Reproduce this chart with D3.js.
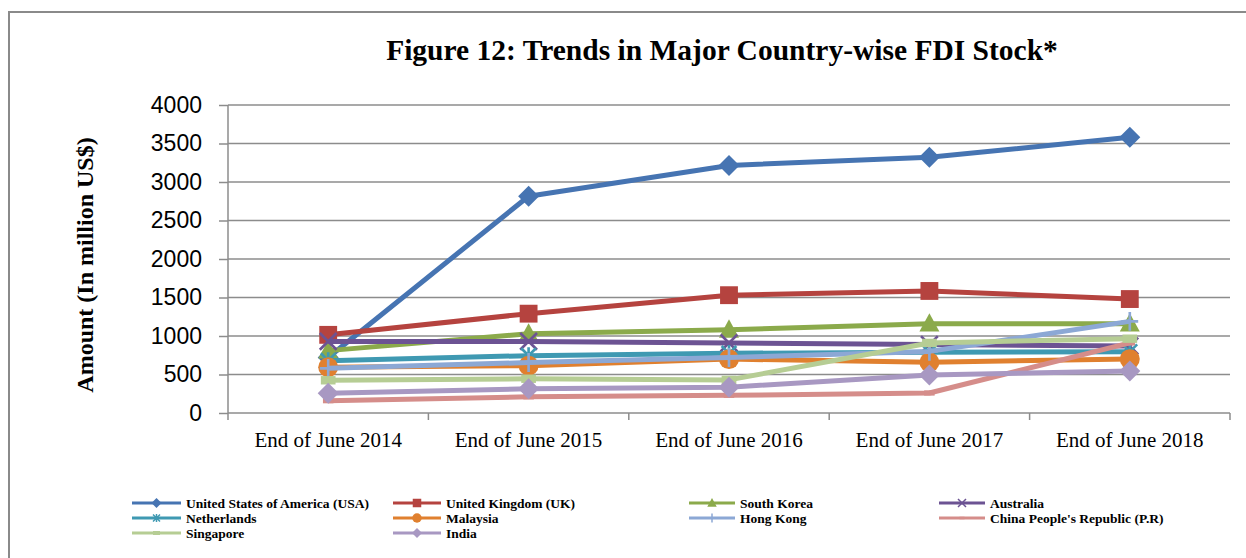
<!DOCTYPE html>
<html>
<head>
<meta charset="utf-8">
<script src="https://cdn.jsdelivr.net/npm/d3@7"></script>
<style>
  body { margin: 0; background: #fff; }
  svg { display: block; }
</style>
</head>
<body>
<div id="chart"></div>
<script>
const periods = ["End of June 2014", "End of June 2015", "End of June 2016", "End of June 2017", "End of June 2018"];
const yTicks = [0, 500, 1000, 1500, 2000, 2500, 3000, 3500, 4000];

const usa = [720, 2815, 3215, 3320, 3580];
const uk = [1015, 1290, 1530, 1585, 1480];
const southKorea = [810, 1030, 1080, 1160, 1160];
const australia = [930, 930, 910, 890, 870];
const netherlands = [680, 745, 775, 790, 795];
const malaysia = [595, 615, 700, 660, 700];
const hongKong = [580, 655, 720, 800, 1190];
const china = [160, 210, 230, 260, 910];
const singapore = [425, 445, 430, 910, 965];
const india = [255, 315, 335, 495, 545];

const series = [
  { name: "United States of America (USA)", values: usa, color: "#4674B2", marker: "diamond" },
  { name: "United Kingdom (UK)", values: uk, color: "#B5433F", marker: "square" },
  { name: "South Korea", values: southKorea, color: "#8BAA4B", marker: "triangle" },
  { name: "Australia", values: australia, color: "#6C5393", marker: "x" },
  { name: "Netherlands", values: netherlands, color: "#3F99B2", marker: "star" },
  { name: "Malaysia", values: malaysia, color: "#E0802F", marker: "circle" },
  { name: "Hong Kong", values: hongKong, color: "#8CA8D5", marker: "plus" },
  { name: "China People's Republic (P.R)", values: china, color: "#D58D8A", marker: "dash" },
  { name: "Singapore", values: singapore, color: "#B6CD94", marker: "bar" },
  { name: "India", values: india, color: "#A898C2", marker: "diamond" }
];

const width = 1246, height = 558;
const plot = { left: 228, right: 1230, top: 105, bottom: 413 };

const svg = d3.select("#chart").append("svg")
  .attr("width", width)
  .attr("height", height);

// outer frame (runs off the right and bottom)
svg.append("rect")
  .attr("x", 9).attr("y", 12)
  .attr("width", 1260).attr("height", 600)
  .attr("fill", "none")
  .attr("stroke", "#8a8a8a")
  .attr("stroke-width", 2);

svg.append("text")
  .attr("x", 722).attr("y", 60)
  .attr("text-anchor", "middle")
  .style("font-family", "'Liberation Serif', 'Times New Roman', serif")
  .style("font-weight", "bold")
  .style("font-size", "29.5px")
  .text("Figure 12: Trends in Major Country-wise FDI Stock*");

const x = d3.scaleBand().domain(periods).range([plot.left, plot.right]);
const y = d3.scaleLinear().domain([0, 4000]).range([plot.bottom, plot.top]);
const cx = d => x(d) + x.bandwidth() / 2;

// gridlines
svg.append("g")
  .selectAll("line")
  .data(yTicks.filter(t => t > 0))
  .join("line")
  .attr("x1", plot.left).attr("x2", plot.right)
  .attr("y1", d => y(d)).attr("y2", d => y(d))
  .attr("stroke", "#8c8c8c")
  .attr("stroke-width", 1.5);

// y axis
const yAxis = svg.append("g")
  .attr("transform", `translate(${plot.left},0)`)
  .call(d3.axisLeft(y).tickValues(yTicks).tickSize(9).tickPadding(17).tickFormat(d3.format("d")));
yAxis.selectAll("line, path").attr("stroke", "#8c8c8c").attr("stroke-width", 1.5);
yAxis.select(".domain").attr("d", `M0,${plot.top}V${plot.bottom}`);
yAxis.selectAll("text")
  .attr("fill", "#000")
  .style("font-family", "'Liberation Sans', Arial, sans-serif")
  .style("font-size", "23px");

// x axis
const xAxisG = svg.append("g");
xAxisG.append("line")
  .attr("x1", plot.left).attr("x2", plot.right)
  .attr("y1", plot.bottom).attr("y2", plot.bottom)
  .attr("stroke", "#8c8c8c").attr("stroke-width", 1.5);
const bounds = periods.map(p => x(p)).concat([x(periods[periods.length - 1]) + x.bandwidth()]);
xAxisG.selectAll(".tk")
  .data(bounds)
  .join("line")
  .attr("x1", d => d).attr("x2", d => d)
  .attr("y1", plot.bottom).attr("y2", plot.bottom + 7)
  .attr("stroke", "#8c8c8c").attr("stroke-width", 1.5);
xAxisG.selectAll("text")
  .data(periods)
  .join("text")
  .attr("x", d => cx(d))
  .attr("y", 447)
  .attr("text-anchor", "middle")
  .style("font-family", "'Liberation Serif', 'Times New Roman', serif")
  .style("font-size", "21px")
  .text(d => d);

// y axis title
svg.append("text")
  .attr("transform", "translate(93,265) rotate(-90)")
  .attr("text-anchor", "middle")
  .style("font-family", "'Liberation Serif', 'Times New Roman', serif")
  .style("font-weight", "bold")
  .style("font-size", "24px")
  .text("Amount (In million US$)");

function drawMarker(g, type, color, s) {
  if (type === "diamond") {
    g.append("path").attr("d", `M0,${-s}L${s},0L0,${s}L${-s},0Z`).attr("fill", color);
  } else if (type === "square") {
    g.append("rect").attr("x", -s * 0.85).attr("y", -s * 0.85)
      .attr("width", s * 1.7).attr("height", s * 1.7).attr("fill", color);
  } else if (type === "triangle") {
    g.append("path").attr("d", `M0,${-s}L${s * 0.95},${s * 0.75}L${-s * 0.95},${s * 0.75}Z`).attr("fill", color);
  } else if (type === "circle") {
    g.append("circle").attr("r", s * 0.95).attr("fill", color);
  } else if (type === "x") {
    g.append("path").attr("d", `M${-s * 0.8},${-s * 0.8}L${s * 0.8},${s * 0.8}M${s * 0.8},${-s * 0.8}L${-s * 0.8},${s * 0.8}`)
      .attr("stroke", color).attr("stroke-width", Math.max(1.5, s / 4));
  } else if (type === "star") {
    g.append("path").attr("d", `M${-s * 0.7},${-s * 0.7}L${s * 0.7},${s * 0.7}M${s * 0.7},${-s * 0.7}L${-s * 0.7},${s * 0.7}M0,${-s * 0.8}V${s * 0.8}`)
      .attr("stroke", color).attr("stroke-width", Math.max(1.5, s / 4));
  } else if (type === "plus") {
    g.append("path").attr("d", `M${-s * 0.8},0H${s * 0.8}M0,${-s * 0.9}V${s * 0.9}`)
      .attr("stroke", color).attr("stroke-width", Math.max(1.5, s / 4));
  } else if (type === "dash") {
    g.append("rect").attr("x", -s * 0.5).attr("y", -s * 0.25)
      .attr("width", s).attr("height", s * 0.5).attr("fill", color);
  } else if (type === "bar") {
    g.append("rect").attr("x", -s * 0.7).attr("y", -s * 0.4)
      .attr("width", s * 1.4).attr("height", s * 0.8).attr("fill", color);
  }
}

const line = d3.line().x(d => cx(d.p)).y(d => y(d.v));

series.forEach(s => {
  const pts = s.values.map((v, i) => ({ p: periods[i], v }));
  const g = svg.append("g");
  g.append("path")
    .datum(pts)
    .attr("d", line)
    .attr("fill", "none")
    .attr("stroke", s.color)
    .attr("stroke-width", 5)
    .attr("stroke-linejoin", "round");
  pts.forEach(pt => {
    const m = g.append("g").attr("transform", `translate(${cx(pt.p)},${y(pt.v)})`);
    drawMarker(m, s.marker, s.color, 10.5);
  });
});

// legend
const legCols = [
  { lx: 132, tx: 186 },
  { lx: 393, tx: 446 },
  { lx: 689, tx: 740 },
  { lx: 939, tx: 990 }
];
const legRows = [503, 518, 533];
series.forEach((s, i) => {
  const col = legCols[i % 4];
  const ry = legRows[Math.floor(i / 4)];
  const g = svg.append("g");
  g.append("line")
    .attr("x1", col.lx).attr("x2", col.tx - 5)
    .attr("y1", ry).attr("y2", ry)
    .attr("stroke", s.color).attr("stroke-width", 3);
  const m = g.append("g").attr("transform", `translate(${(col.lx + col.tx - 5) / 2},${ry})`);
  drawMarker(m, s.marker, s.color, 5);
  g.append("text")
    .attr("x", col.tx).attr("y", ry + 4.5)
    .style("font-family", "'Liberation Serif', 'Times New Roman', serif")
    .style("font-weight", "bold")
    .style("font-size", "13.5px")
    .text(s.name);
});
</script>
</body>
</html>
